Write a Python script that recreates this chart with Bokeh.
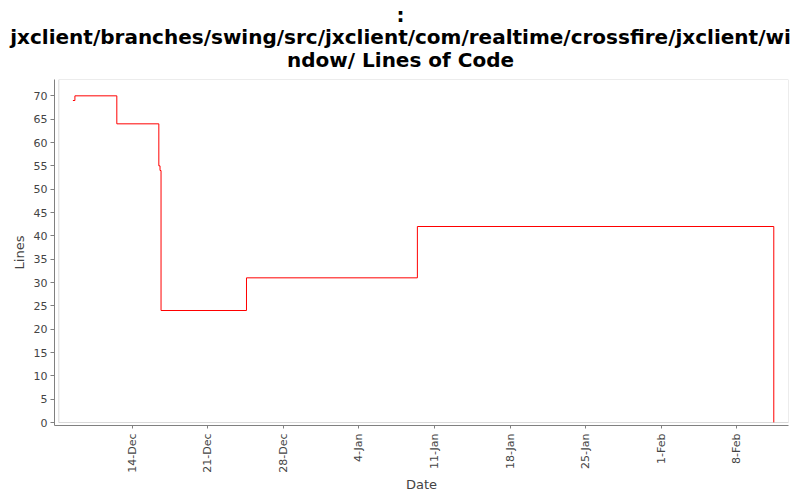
import math
import pandas as pd
from bokeh.plotting import figure
from bokeh.models import FixedTicker, Range1d, BoxAnnotation, Label
from bokeh.embed import file_html
from bokeh.resources import INLINE

# ---- data ----
dates = ["2007-12-08 12:00", "2007-12-08 16:30", "2007-12-12 13:40",
         "2007-12-16 11:06", "2007-12-16 13:45", "2007-12-16 16:00",
         "2007-12-24 14:00", "2008-01-09 10:00", "2008-02-11 10:30"]
lines = [69, 70, 64, 55, 54, 24, 31, 42, 0]

tick_dates = ["2007-12-14", "2007-12-21", "2007-12-28", "2008-01-04",
              "2008-01-11", "2008-01-18", "2008-01-25", "2008-02-01",
              "2008-02-08"]
tick_labels = ["14-Dec", "21-Dec", "28-Dec", "4-Jan", "11-Jan", "18-Jan",
               "25-Jan", "1-Feb", "8-Feb"]
y_ticks = [0, 5, 10, 15, 20, 25, 30, 35, 40, 45, 50, 55, 60, 65, 70]

title_lines = [":",
               "jxclient/branches/swing/src/jxclient/com/realtime/crossfire/jxclient/wi",
               "ndow/ Lines of Code"]
x_label = "Date"
y_label = "Lines"


def ms(s):
    return pd.Timestamp(s).value / 1e6


xs = [ms(d) for d in dates]

W = 800
TH = 77            # title strip height
H = 500 - TH       # chart height

# ---- title strip (its own small figure, texts centred on the page) ----
tp = figure(width=W, height=TH, output_backend="svg", toolbar_location=None,
            x_range=Range1d(0, W), y_range=Range1d(TH, 0),
            x_axis_location=None, y_axis_location=None, title=None,
            min_border=0)
tp.outline_line_color = None
tp.xgrid.visible = False
tp.ygrid.visible = False
for txt, py in zip(title_lines, [14, 36.5, 59]):
    tp.add_layout(Label(x=W / 2, y=py, text=txt,
                        text_align="center", text_baseline="middle",
                        text_font="DejaVu Sans", text_font_style="bold",
                        text_font_size="20px", text_color="black"))

# ---- main chart ----
ml, mr, mt, mb = 54, 12, 2, 75
gap_x, gap_y = 4.3, 3.0          # axis lines sit a few px off the plot box
frame_w = W - ml - mr
frame_h = H - mt - mb

x_lo_in = ms("2007-12-07 04:40")
x_hi = ms("2008-02-12 19:12")
y_lo_in = 0.0
y_hi = 73.5

ms_per_px = (x_hi - x_lo_in) / (frame_w - gap_x)
u_per_px = (y_hi - y_lo_in) / (frame_h - gap_y)
x_lo = x_lo_in - gap_x * ms_per_px
y_lo = y_lo_in - gap_y * u_per_px

p = figure(width=W, height=H, x_axis_type="datetime",
           output_backend="svg", toolbar_location=None, title=None,
           x_range=Range1d(x_lo, x_hi), y_range=Range1d(y_lo, y_hi),
           min_border_left=ml, min_border_right=mr,
           min_border_top=mt, min_border_bottom=mb)

p.outline_line_color = None
p.background_fill_color = "white"
p.border_fill_color = "white"
p.xgrid.visible = False
p.ygrid.visible = False

box = BoxAnnotation(left=x_lo_in, right=x_hi, bottom=y_lo_in, top=y_hi,
                    fill_alpha=0, line_color="#808080", line_width=1)
p.add_layout(box)

p.step(xs, lines, mode="after", line_color="#ff0000", line_width=1)

gray = "#808080"
for ax in (p.xaxis[0], p.yaxis[0]):
    ax.axis_line_color = gray
    ax.major_tick_line_color = gray
    ax.minor_tick_line_color = None
    ax.major_tick_in = 0
    ax.major_label_text_font = "DejaVu Sans"
    ax.major_label_text_font_size = "11px"
    ax.major_label_text_color = "#444444"
    ax.axis_label_text_font = "DejaVu Sans"
    ax.axis_label_text_font_size = "13px"
    ax.axis_label_text_font_style = "normal"
    ax.axis_label_text_color = "#444444"

p.xaxis.axis_label = x_label
p.yaxis.axis_label = y_label

tick_ms = [ms(d) for d in tick_dates]
p.xaxis.ticker = FixedTicker(ticks=tick_ms)
p.xaxis.major_label_overrides = {t: l for t, l in zip(tick_ms, tick_labels)}
p.xaxis.major_label_orientation = math.pi / 2
p.xaxis.major_tick_out = 3
p.xaxis.major_label_standoff = 5
p.xaxis.axis_label_standoff = 1

p.yaxis.ticker = FixedTicker(ticks=y_ticks)
p.yaxis.major_tick_out = 4
p.yaxis.major_label_standoff = 3
p.yaxis.axis_label_standoff = 4

# two independent roots, stacked: title strip, then the chart
open("out.html", "w").write(file_html([tp, p], INLINE))
